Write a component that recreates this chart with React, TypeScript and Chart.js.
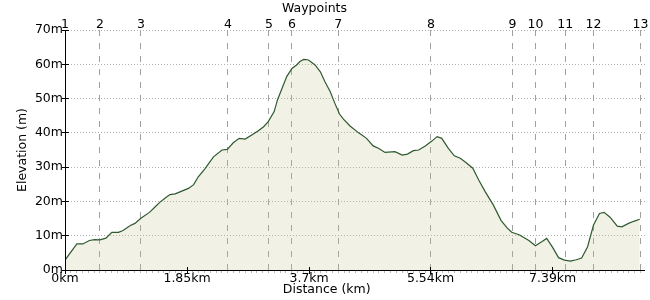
import React, { useEffect, useRef } from "react";
import { Chart, registerables } from "chart.js";

Chart.register(...registerables);

// ---- data ----
const distanceKm = [
  0.0, 0.18, 0.27, 0.37, 0.45, 0.53, 0.62, 0.71, 0.81, 0.88, 0.99, 1.06, 1.15, 1.28, 1.36, 1.44,
  1.52, 1.59, 1.67, 1.77, 1.87, 1.95, 2.02, 2.12, 2.25, 2.38, 2.46, 2.55, 2.64, 2.73, 2.83, 2.93,
  3.01, 3.08, 3.17, 3.22, 3.29, 3.36, 3.44, 3.51, 3.56, 3.62, 3.69, 3.79, 3.87, 3.94, 4.02, 4.09,
  4.16, 4.22, 4.32, 4.45, 4.57, 4.67, 4.75, 4.85, 5.0, 5.11, 5.19, 5.28, 5.36, 5.46, 5.56, 5.64,
  5.71, 5.81, 5.9, 5.99, 6.08, 6.18, 6.27, 6.37, 6.49, 6.61, 6.7, 6.77, 6.89, 7.03, 7.13, 7.23,
  7.3, 7.39, 7.48, 7.57, 7.66, 7.75, 7.83, 7.92, 8.01, 8.1, 8.17, 8.26, 8.37, 8.44, 8.54, 8.62, 8.71,
];
const elevationM = [
  2.9, 7.6, 7.6, 8.6, 8.85, 8.8, 9.3, 11.0, 11.0, 11.5, 13.0, 13.6, 15.1, 16.8, 18.3, 19.8,
  21.0, 22.0, 22.2, 23.0, 23.8, 24.9, 27.2, 29.5, 33.0, 35.0, 35.2, 37.1, 38.4, 38.2, 39.4, 40.6,
  41.8, 43.3, 46.2, 49.6, 53.0, 56.4, 58.8, 59.8, 60.8, 61.4, 61.25, 59.8, 57.8, 54.9, 52.0, 48.6,
  45.5, 44.0, 42.0, 40.0, 38.4, 36.2, 35.5, 34.3, 34.5, 33.5, 33.8, 34.8, 35.0, 36.2, 37.6, 38.9,
  38.4, 35.5, 33.3, 32.6, 31.3, 29.7, 26.25, 22.8, 19.0, 14.4, 12.3, 11.0, 10.2, 8.6, 7.1, 8.3,
  9.2, 6.6, 3.6, 2.9, 2.6, 3.0, 3.5, 6.8, 13.1, 16.5, 16.8, 15.4, 12.8, 12.6, 13.6, 14.2, 14.8,
];
const waypointKm = [0, 0.53, 1.15, 2.47, 3.09, 3.44, 4.14, 5.545, 6.78, 7.13, 7.58, 8.01, 8.72];
const waypointLabels = ["1", "2", "3", "4", "5", "6", "7", "8", "9", "10", "11", "12", "13"];
const distanceTicks = [0, 1.85, 3.7, 5.54, 7.39];
const distanceTickLabels = ["0km", "1.85km", "3.7km", "5.54km", "7.39km"];
const elevationTicks = [0, 10, 20, 30, 40, 50, 60, 70];
const minorPerMajor = 21;
const xMax = 8.79;

const FONT = "'DejaVu Sans', Verdana, sans-serif";
const FS = 12.5;

const decor = {
  id: "decor",
  beforeDatasetsDraw(chart: any) {
    const { ctx, chartArea: a, scales } = chart;
    const y = scales.y;
    const xt = scales.x2;
    ctx.save();
    ctx.lineWidth = 1;
    // dotted horizontal grid
    ctx.strokeStyle = "#b0b0b0";
    ctx.setLineDash([1, 2]);
    elevationTicks.forEach((v) => {
      if (v === 0) return;
      const py = Math.floor(y.getPixelForValue(v)) + 0.5;
      ctx.beginPath();
      ctx.moveTo(a.left, py);
      ctx.lineTo(a.right, py);
      ctx.stroke();
    });
    // dashed waypoint lines
    ctx.strokeStyle = "#a0a0a0";
    ctx.setLineDash([6, 7]);
    waypointKm.forEach((v, i) => {
      if (i === 0) return;
      const px = Math.floor(xt.getPixelForValue(v)) + 0.5;
      ctx.beginPath();
      ctx.moveTo(px, a.top);
      ctx.lineTo(px, a.bottom);
      ctx.stroke();
    });
    ctx.restore();
  },
  afterDatasetsDraw(chart: any) {
    const { ctx, chartArea: a, scales } = chart;
    const x = scales.x;
    const y = scales.y;
    ctx.save();
    ctx.setLineDash([]);
    ctx.lineWidth = 1;
    // minor x ticks
    ctx.strokeStyle = "#b8b8b8";
    const step = (distanceTicks[1] - distanceTicks[0]) / minorPerMajor;
    for (let v = step; v < xMax; v += step) {
      const px = Math.floor(x.getPixelForValue(v)) + 0.5;
      ctx.beginPath();
      ctx.moveTo(px, a.bottom);
      ctx.lineTo(px, a.bottom + 3);
      ctx.stroke();
    }
    // axes
    ctx.strokeStyle = "#000";
    const ax = Math.floor(a.left) + 0.5;
    const ay = Math.floor(a.bottom) + 0.5;
    ctx.beginPath();
    ctx.moveTo(ax, a.top);
    ctx.lineTo(ax, ay);
    ctx.lineTo(a.right, ay);
    ctx.stroke();
    // major ticks
    distanceTicks.forEach((v) => {
      const px = Math.floor(x.getPixelForValue(v)) + 0.5;
      ctx.beginPath();
      ctx.moveTo(px, a.bottom - 3);
      ctx.lineTo(px, a.bottom + 4);
      ctx.stroke();
    });
    elevationTicks.forEach((v) => {
      const py = Math.floor(y.getPixelForValue(v)) + 0.5;
      ctx.beginPath();
      ctx.moveTo(a.left - 3, py);
      ctx.lineTo(a.left + 4, py);
      ctx.stroke();
    });
    // titles
    ctx.fillStyle = "#000";
    ctx.font = `${FS}px ${FONT}`;
    ctx.textAlign = "center";
    ctx.textBaseline = "middle";
    ctx.fillText("Waypoints", 314.5, 8.3);
    ctx.fillText("Distance (km)", 326.7, 290);
    ctx.translate(22.8, (a.top + a.bottom) / 2);
    ctx.rotate(-Math.PI / 2);
    ctx.fillText("Elevation (m)", 0, 0);
    ctx.restore();
  },
};

export default function App() {
  const ref = useRef<HTMLCanvasElement | null>(null);
  useEffect(() => {
    document.body.style.margin = "0";
    const canvas = ref.current;
    if (!canvas) return;
    const points = distanceKm.map((d, i) => ({ x: d, y: elevationM[i] }));
    const tickFont = { family: FONT, size: FS };
    const chart = new Chart(canvas, {
      type: "line",
      data: {
        datasets: [
          {
            data: points,
            borderColor: "#2f5a2f",
            borderWidth: 1.2,
            backgroundColor: "rgba(190,190,140,0.22)",
            fill: "origin",
            pointRadius: 0,
            tension: 0,
          },
        ],
      },
      options: {
        animation: false,
        responsive: false,
        devicePixelRatio: 1,
        layout: { padding: { left: 0, right: 5, top: 0, bottom: 0 } },
        plugins: { legend: { display: false }, tooltip: { enabled: false } },
        scales: {
          x: {
            type: "linear",
            position: "bottom",
            min: 0,
            max: xMax,
            afterBuildTicks: (s: any) => {
              s.ticks = distanceTicks.map((v) => ({ value: v }));
            },
            afterFit: (s: any) => {
              s.height = 30;
            },
            grid: { display: false, drawTicks: false },
            border: { display: false },
            ticks: {
              autoSkip: false,
              maxRotation: 0,
              padding: 1,
              color: "#000",
              font: tickFont,
              callback: (_v: any, i: number) => distanceTickLabels[i],
            },
          },
          x2: {
            type: "linear",
            position: "top",
            min: 0,
            max: xMax,
            afterBuildTicks: (s: any) => {
              s.ticks = waypointKm.map((v) => ({ value: v }));
            },
            afterFit: (s: any) => {
              s.height = 30;
            },
            grid: { display: false, drawTicks: false },
            border: { display: false },
            ticks: {
              autoSkip: false,
              maxRotation: 0,
              padding: -2,
              color: "#000",
              font: tickFont,
              callback: (_v: any, i: number) => waypointLabels[i],
            },
          },
          y: {
            type: "linear",
            position: "left",
            min: 0,
            max: 70,
            afterBuildTicks: (s: any) => {
              s.ticks = elevationTicks.map((v) => ({ value: v }));
            },
            afterFit: (s: any) => {
              s.width = 65;
            },
            grid: { display: false, drawTicks: false },
            border: { display: false },
            ticks: {
              autoSkip: false,
              padding: 2,
              color: "#000",
              font: tickFont,
              callback: (v: any) => `${v}m`,
            },
          },
        },
      },
      plugins: [decor],
    } as any);
    return () => chart.destroy();
  }, []);
  return (
    <div style={{ width: 650, height: 300 }}>
      <canvas ref={ref} width={650} height={300} style={{ display: "block", width: 650, height: 300 }} />
    </div>
  );
}
